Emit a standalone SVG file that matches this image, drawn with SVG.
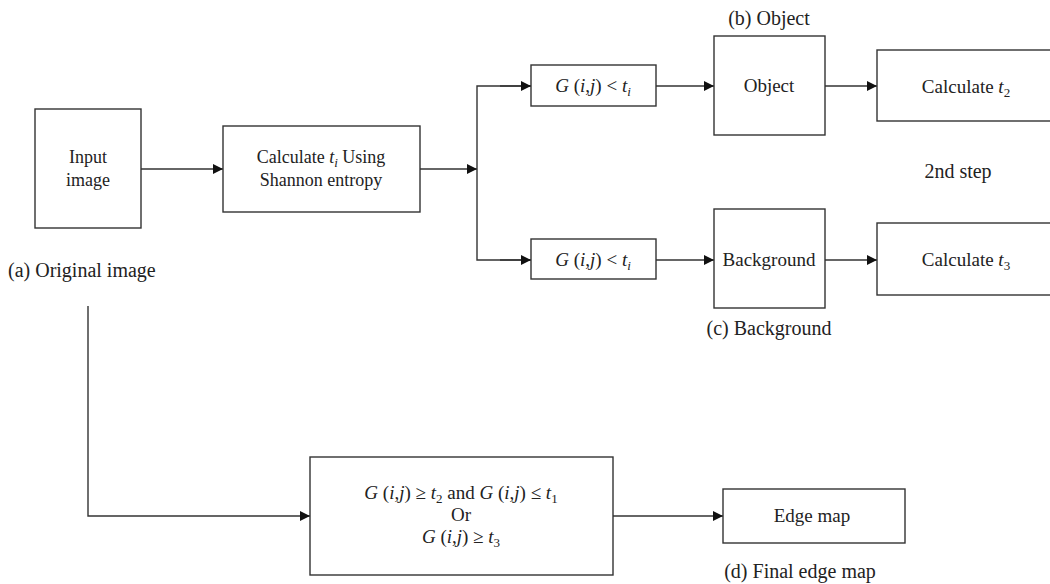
<svg xmlns="http://www.w3.org/2000/svg" width="1050" height="584" viewBox="0 0 1050 584">
<defs>
<style>
.box{fill:#fff;stroke:#333;stroke-width:1.4}
.ln{fill:none;stroke:#333;stroke-width:1.4}
text{font-family:"Liberation Serif","Times New Roman",serif;font-size:19px;fill:#222}
.c{text-anchor:middle}
.i{font-style:italic}
.s{font-size:13px}
.cap{font-size:20px}
.sm{font-size:18px}
</style>
<marker id="ah" viewBox="0 0 10 10" refX="10" refY="5" markerWidth="10" markerHeight="10" markerUnits="userSpaceOnUse" orient="auto">
<path d="M0,0 L10,5 L0,10 z" fill="#111"/>
</marker>
</defs>
<rect width="1050" height="584" fill="#fff"/>
<g id="connectors">
<line class="ln" x1="141" y1="169" x2="223" y2="169" marker-end="url(#ah)"/>
<line class="ln" x1="420" y1="169" x2="477" y2="169" marker-end="url(#ah)"/>
<polyline class="ln" points="531,86 477,86 477,260 531,260"/>
<line class="ln" x1="500" y1="86" x2="531" y2="86" marker-end="url(#ah)"/>
<line class="ln" x1="500" y1="260" x2="531" y2="260" marker-end="url(#ah)"/>
<line class="ln" x1="656" y1="86" x2="714" y2="86" marker-end="url(#ah)"/>
<line class="ln" x1="656" y1="260" x2="714" y2="260" marker-end="url(#ah)"/>
<line class="ln" x1="825" y1="86" x2="877" y2="86" marker-end="url(#ah)"/>
<line class="ln" x1="825" y1="260" x2="877" y2="260" marker-end="url(#ah)"/>
<polyline class="ln" points="88,306 88,516 310,516" marker-end="url(#ah)"/>
<line class="ln" x1="613" y1="516" x2="723" y2="516" marker-end="url(#ah)"/>
</g>
<g id="input">
<rect class="box" x="35" y="109" width="106" height="119"/>
<text class="c sm" x="88" y="163">Input</text>
<text class="c sm" x="88" y="186">image</text>
<text class="cap" x="8" y="277">(a) Original image</text>
</g>
<g id="calc-ti">
<rect class="box" x="223" y="126" width="197" height="86"/>
<text class="c sm" x="321" y="163">Calculate <tspan class="i">t</tspan><tspan class="i s" dy="4">i</tspan><tspan dy="-4"> Using</tspan></text>
<text class="c sm" x="321" y="186">Shannon entropy</text>
</g>
<g id="g-top">
<rect class="box" x="531" y="65" width="125" height="41"/>
<text class="c" x="593" y="92"><tspan class="i">G</tspan> (<tspan class="i">i</tspan>,<tspan class="i">j</tspan>) &lt; <tspan class="i">t</tspan><tspan class="i s" dy="4">i</tspan></text>
</g>
<g id="g-bottom">
<rect class="box" x="531" y="239" width="125" height="40"/>
<text class="c" x="593" y="266"><tspan class="i">G</tspan> (<tspan class="i">i</tspan>,<tspan class="i">j</tspan>) &lt; <tspan class="i">t</tspan><tspan class="i s" dy="4">i</tspan></text>
</g>
<g id="object">
<rect class="box" x="714" y="36" width="111" height="99"/>
<text class="c" x="769" y="92">Object</text>
<text class="c cap" x="769" y="25">(b) Object</text>
</g>
<g id="background">
<rect class="box" x="714" y="209" width="111" height="99"/>
<text class="c" x="769" y="266">Background</text>
<text class="c cap" x="769" y="335">(c) Background</text>
</g>
<g id="calc-t2">
<rect class="box" x="877" y="50" width="180" height="71"/>
<text class="c" x="966" y="93">Calculate <tspan class="i">t</tspan><tspan class="s" dy="4">2</tspan></text>
</g>
<g id="step">
<text class="c cap" x="958" y="178">2nd step</text>
</g>
<g id="calc-t3">
<rect class="box" x="877" y="223" width="180" height="72"/>
<text class="c" x="966" y="266">Calculate <tspan class="i">t</tspan><tspan class="s" dy="4">3</tspan></text>
</g>
<g id="condition">
<rect class="box" x="310" y="457" width="303" height="118"/>
<text class="c" x="461" y="499"><tspan class="i">G</tspan> (<tspan class="i">i</tspan>,<tspan class="i">j</tspan>) ≥ <tspan class="i">t</tspan><tspan class="s" dy="4">2</tspan><tspan dy="-4"> and </tspan><tspan class="i">G</tspan> (<tspan class="i">i</tspan>,<tspan class="i">j</tspan>) ≤ <tspan class="i">t</tspan><tspan class="s" dy="4">1</tspan></text>
<text class="c" x="461" y="521">Or</text>
<text class="c" x="461" y="543"><tspan class="i">G</tspan> (<tspan class="i">i</tspan>,<tspan class="i">j</tspan>) ≥ <tspan class="i">t</tspan><tspan class="s" dy="4">3</tspan></text>
</g>
<g id="edge-map">
<rect class="box" x="723" y="489" width="182" height="54"/>
<text class="c" x="812" y="522">Edge map</text>
<text class="c cap" x="800" y="578">(d) Final edge map</text>
</g>
</svg>
